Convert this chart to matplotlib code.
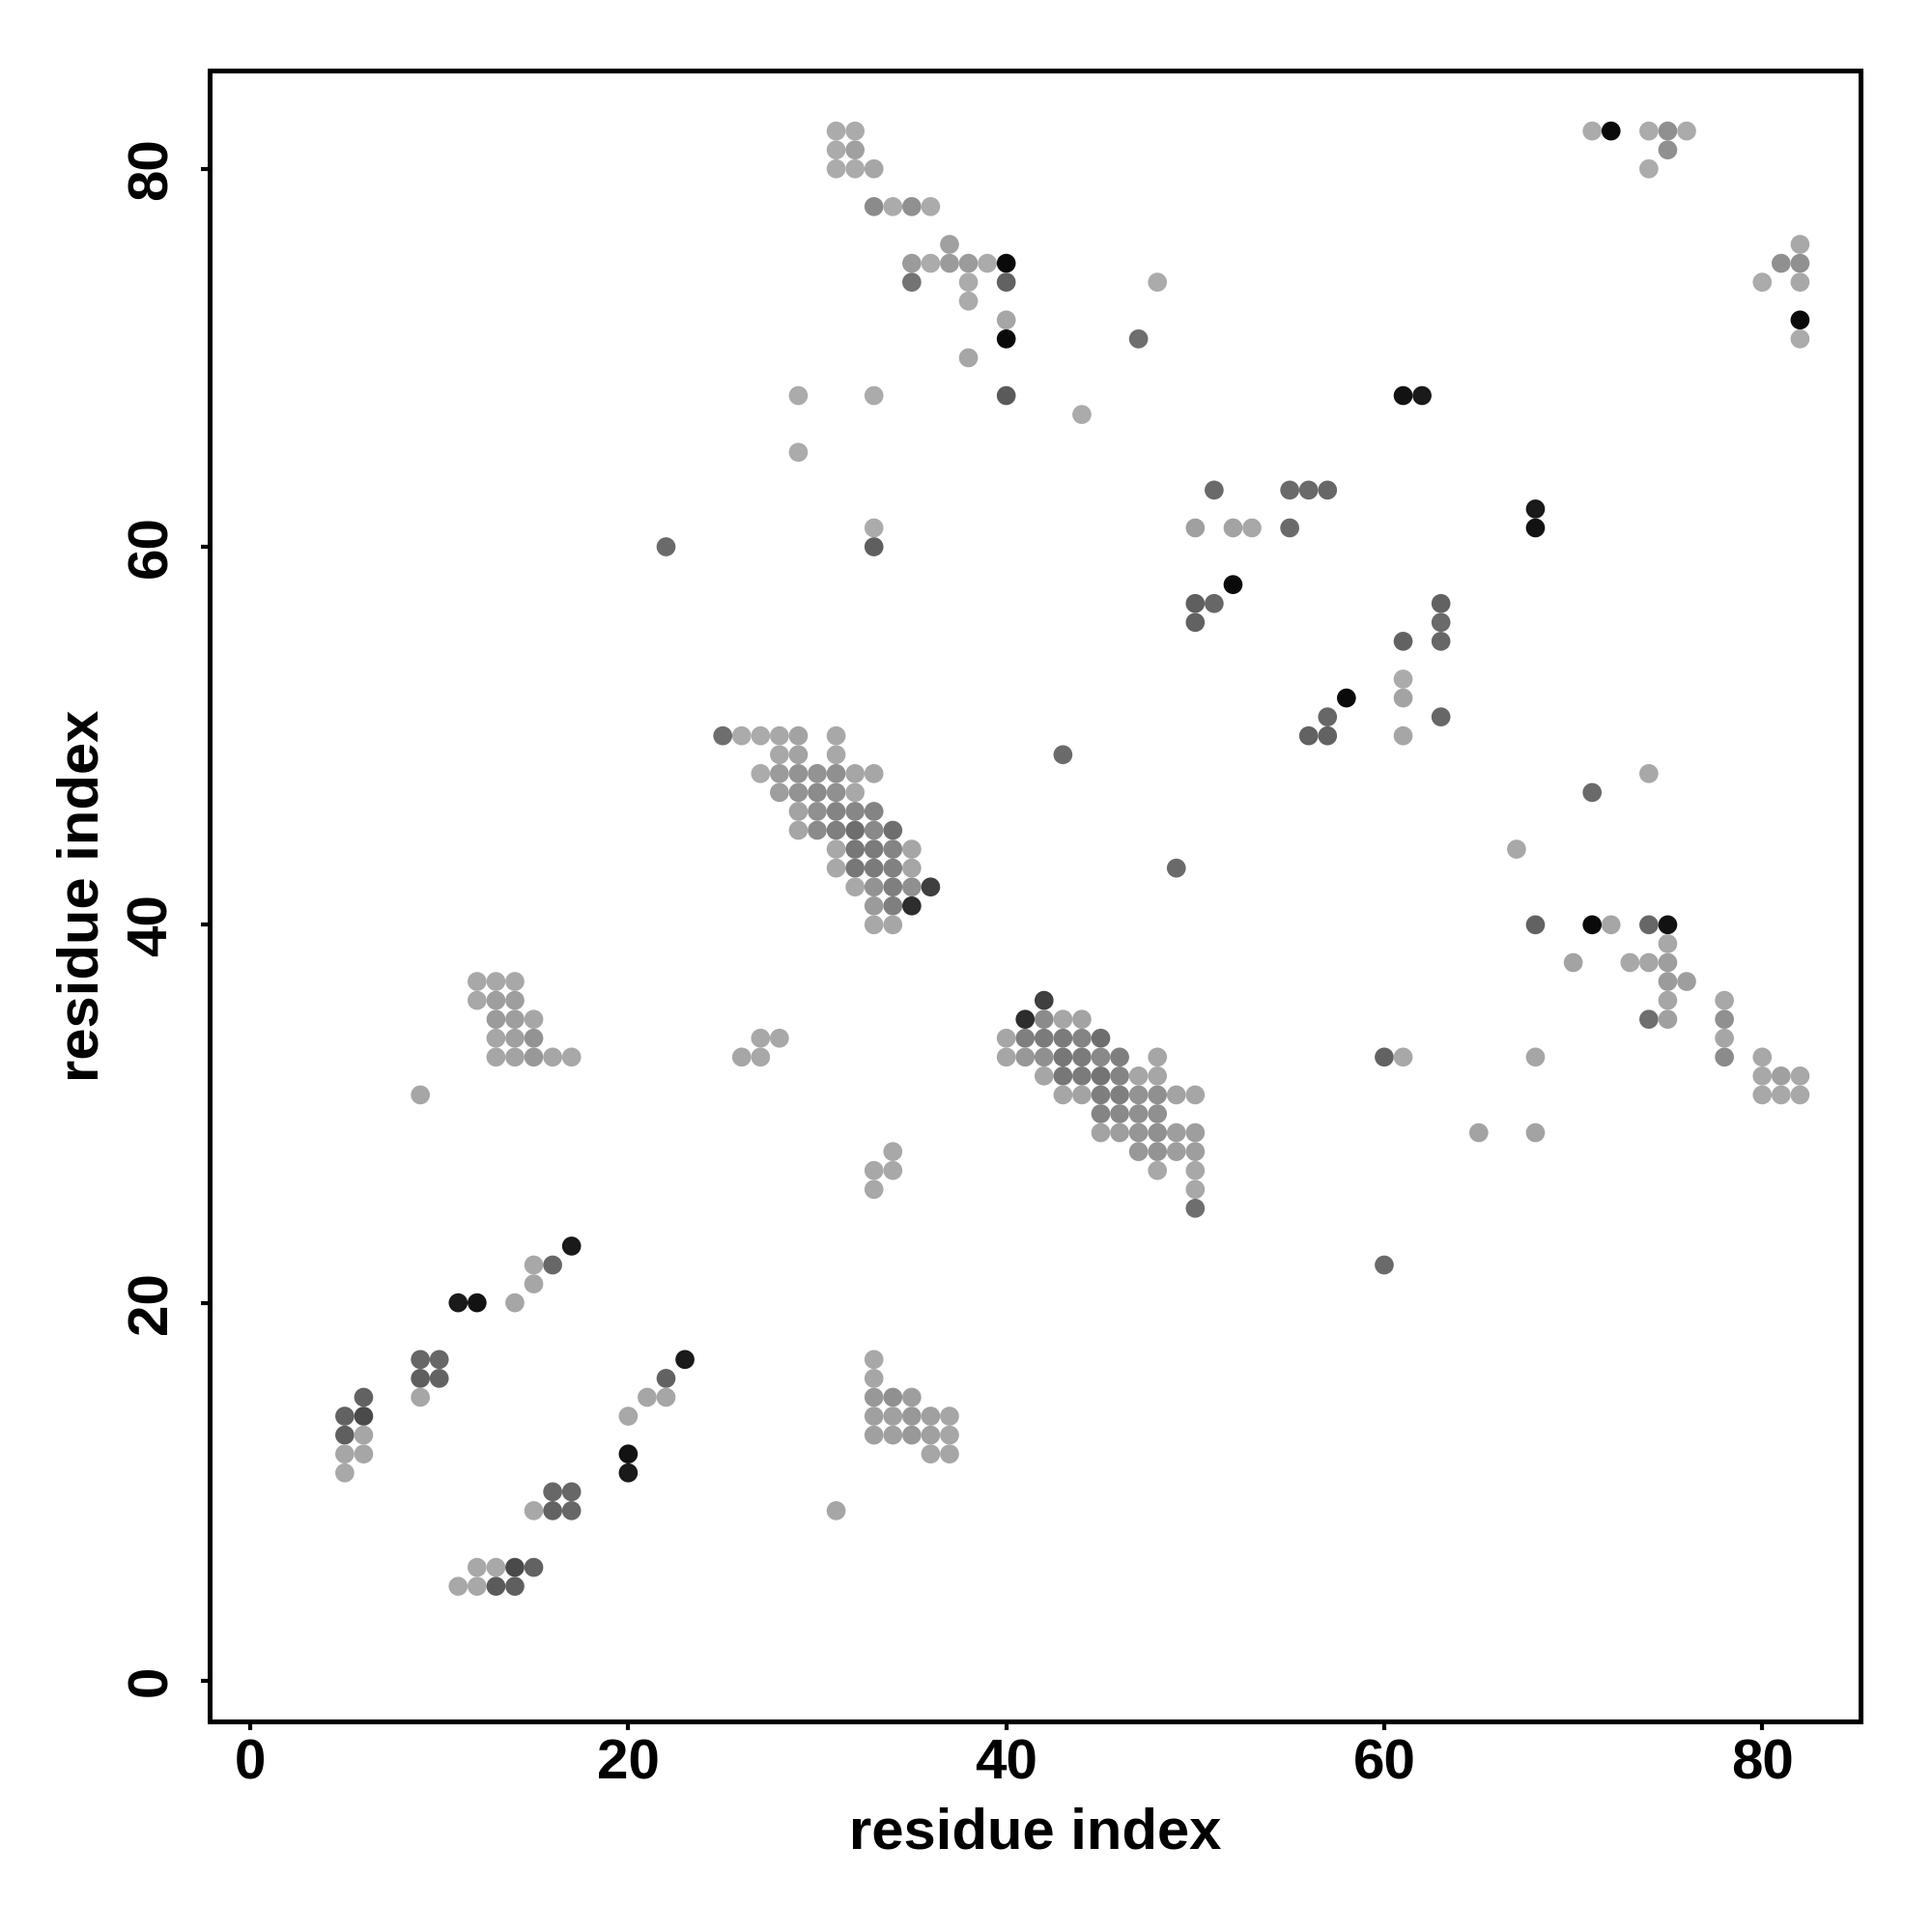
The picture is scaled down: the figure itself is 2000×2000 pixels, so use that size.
import matplotlib
matplotlib.use('Agg')
import matplotlib.pyplot as plt

# contact map: residue i, residue j, contact score (0 = weak/light, 1 = strong/black)
res_i = [
    # top left blocks
    31, 32, 31, 32, 31, 32, 33,
    33, 34, 35, 36, 37,
    35, 36, 37, 38, 39, 40,
    35, 38, 40, 48, 38, 40, 40, 47, 38,
    29, 33, 40, 44, 29,
    51, 55, 56, 57,
    33, 50, 52, 53, 55,
    22, 33, 52,
    50, 51, 63, 50, 63, 61, 63,
    61, 61, 58, 57, 63, 56, 57, 61,
    # top right
    71, 72, 74, 75, 76, 75, 74,
    82, 81, 82, 80, 82, 82, 82,
    61, 62, 68, 68,
    # strand pair around (30, 45)
    25, 26, 27, 28, 29, 31,
    28, 29, 31,
    27, 28, 29, 30, 31, 32, 33,
    28, 29, 30, 31, 32,
    29, 30, 31, 32, 33,
    29, 30, 31, 32, 33, 34,
    31, 32, 33, 34, 35,
    31, 32, 33, 34, 35,
    32, 33, 34, 35, 36,
    33, 34, 35,
    33, 34,
    # strand pair around (45, 31)
    42,
    41, 42, 43, 44,
    40, 41, 42, 43, 44, 45,
    40, 41, 42, 43, 44, 45, 46, 48,
    42, 43, 44, 45, 46, 47, 48,
    43, 44, 45, 46, 47, 48, 49, 50,
    45, 46, 47, 48,
    45, 46, 47, 48, 49, 50,
    47, 48, 49, 50,
    48, 50, 50, 50,
    # scattered middle
    43, 49,
    12, 13, 14, 12, 13, 14, 13, 14, 15, 13, 14, 15, 13, 14, 15, 16, 17,
    27, 28, 26, 27, 9,
    34, 33, 34, 33,
    # right middle
    74, 71, 67,
    68, 71, 72, 74, 75,
    75,
    70, 73, 74, 75,
    75, 76,
    75, 78,
    74, 75, 78,
    78,
    60, 61, 68, 78, 80,
    80, 81, 82,
    80, 81, 82,
    65, 68, 60,
    # bottom left
    17, 15, 16, 15, 11, 12, 14,
    9, 10, 23, 9, 10, 22,
    9, 21, 22, 6,
    5, 6, 20, 5, 6, 5, 6, 20, 5, 20,
    16, 17, 15, 16, 17,
    12, 13, 14, 15, 11, 12, 13, 14,
    # bottom middle
    33, 33, 33, 34, 35,
    33, 34, 35, 36, 37,
    33, 34, 35, 36, 37,
    36, 37, 31,
]

res_j = [
    82, 82, 81, 81, 80, 80, 80,
    78, 78, 78, 78, 76,
    75, 75, 75, 75, 75, 75,
    74, 74, 74, 74, 73, 72, 71, 71, 70,
    68, 68, 68, 67, 65,
    63, 63, 63, 63,
    61, 61, 61, 61, 61,
    60, 60, 58,
    57, 57, 57, 56, 56, 55, 55,
    53, 52, 52, 51, 51, 50, 50, 50,
    82, 82, 82, 82, 82, 81, 80,
    76, 75, 75, 74, 74, 72, 71,
    68, 68, 62, 61,
    50, 50, 50, 50, 50, 50,
    49, 49, 49,
    48, 48, 48, 48, 48, 48, 48,
    47, 47, 47, 47, 47,
    46, 46, 46, 46, 46,
    45, 45, 45, 45, 45, 45,
    44, 44, 44, 44, 44,
    43, 43, 43, 43, 43,
    42, 42, 42, 42, 42,
    41, 41, 41,
    40, 40,
    36,
    35, 35, 35, 35,
    34, 34, 34, 34, 34, 34,
    33, 33, 33, 33, 33, 33, 33, 33,
    32, 32, 32, 32, 32, 32, 32,
    31, 31, 31, 31, 31, 31, 31, 31,
    30, 30, 30, 30,
    29, 29, 29, 29, 29, 29,
    28, 28, 28, 28,
    27, 27, 26, 25,
    49, 43,
    37, 37, 37, 36, 36, 36, 35, 35, 35, 34, 34, 34, 33, 33, 33, 33, 33,
    34, 34, 33, 33, 31,
    28, 27, 27, 26,
    48, 47, 44,
    40, 40, 40, 40, 40,
    39,
    38, 38, 38, 38,
    37, 37,
    36, 36,
    35, 35, 35,
    34,
    33, 33, 33, 33, 33,
    32, 32, 32,
    31, 31, 31,
    29, 29, 22,
    23, 22, 22, 21, 20, 20, 20,
    17, 17, 17, 16, 16, 16,
    15, 15, 15, 15,
    14, 14, 14, 13, 13, 12, 12, 12, 11, 11,
    10, 10, 9, 9, 9,
    6, 6, 6, 6, 5, 5, 5, 5,
    17, 16, 15, 15, 15,
    14, 14, 14, 14, 14,
    13, 13, 13, 13, 13,
    12, 12, 9,
]

score = [
    0, 0, 0, 0.07, 0, 0, 0.03,
    0.2, 0, 0.17, 0, 0.07,
    0.1, 0, 0.1, 0.1, 0, 1.0,
    0.35, 0, 0.45, 0, 0, 0.03, 1.0, 0.38, 0.03,
    0, 0, 0.5, 0, 0,
    0.4, 0.4, 0.4, 0.42,
    0, 0.07, 0.05, 0.02, 0.4,
    0.4, 0.47, 1.0,
    0.47, 0.42, 0.45, 0.45, 0.4, 0.45, 0.42,
    0, 0.05, 1.0, 0.42, 0.42, 0.45, 0.45, 0.03,
    0, 1.0, 0, 0.17, 0, 0.17, 0,
    0.02, 0.17, 0.17, 0, 0.02, 1.0, 0,
    0.95, 0.9, 0.9, 0.95,
    0.38, 0, 0, 0.02, 0.05, 0.02,
    0.02, 0.05, 0.02,
    0, 0.1, 0.15, 0.15, 0.17, 0.03, 0.03,
    0.08, 0.15, 0.2, 0.17, 0.02,
    0.05, 0.17, 0.24, 0.22, 0.24,
    0.03, 0.2, 0.27, 0.38, 0.21, 0.38,
    0.02, 0.32, 0.3, 0.24, 0.03,
    0.02, 0.32, 0.3, 0.26, 0.03,
    0.02, 0.15, 0.27, 0.17, 0.67,
    0.1, 0.27, 0.78,
    0.02, 0.03,
    0.67,
    0.78, 0.2, 0.03, 0.05,
    0.03, 0.27, 0.3, 0.3, 0.24, 0.38,
    0.03, 0.12, 0.17, 0.32, 0.3, 0.21, 0.27, 0.03,
    0.03, 0.32, 0.3, 0.34, 0.24, 0.03, 0.03,
    0.03, 0.05, 0.28, 0.27, 0.15, 0.17, 0.05, 0.03,
    0.24, 0.21, 0.17, 0.17,
    0.05, 0.08, 0.13, 0.17, 0.08, 0.08,
    0.12, 0.15, 0.08, 0.08,
    0.02, 0.02, 0.02, 0.38,
    0.4, 0.4,
    0.02, 0.02, 0.02, 0.02, 0.08, 0.08, 0.1, 0.08, 0.03, 0.03, 0.07, 0.15, 0.03, 0.05, 0.12, 0.03, 0.02,
    0.02, 0.02, 0.03, 0.02, 0.03,
    0.02, 0.02, 0.02, 0.02,
    0.02, 0.4, 0.02,
    0.45, 1.0, 0.03, 0.42, 0.95,
    0.02,
    0.05, 0.02, 0.03, 0.08,
    0.1, 0.08,
    0.03, 0.02,
    0.38, 0.07, 0.17,
    0.03,
    0.45, 0.02, 0.03, 0.2, 0.02,
    0.02, 0.07, 0.02,
    0.02, 0.02, 0.02,
    0.05, 0.05, 0.4,
    0.9, 0.02, 0.42, 0.03, 0.9, 0.95, 0.03,
    0.42, 0.42, 0.9, 0.47, 0.45, 0.45,
    0.03, 0.03, 0.03, 0.45,
    0.45, 0.6, 0.02, 0.47, 0.03, 0.03, 0.03, 0.95, 0.02, 0.9,
    0.42, 0.42, 0.02, 0.45, 0.42,
    0.02, 0.02, 0.6, 0.45, 0.02, 0.02, 0.5, 0.47,
    0.02, 0.03, 0.12, 0.17, 0.08,
    0.07, 0.07, 0.12, 0.07, 0.03,
    0.07, 0.07, 0.12, 0.07, 0.03,
    0.03, 0.03, 0.03,
]

ticks = [0, 20, 40, 60, 80]
font = 'Liberation Sans'

fig = plt.figure(figsize=(20, 20), dpi=100)
ax = fig.add_axes([0.1085, 0.109, 0.8545, 0.8545])

ax.scatter(res_i, res_j, c=score, cmap='gray_r', vmin=-0.524, vmax=1.063,
           s=200, linewidths=0, marker='o')

ax.set_xlim(-2.15, 85.2)
ax.set_ylim(-2.15, 85.2)
ax.set_xticks(ticks)
ax.set_yticks(ticks)
ax.set_xticklabels([str(t) for t in ticks], fontsize=42, fontweight='bold', family=font)
ax.set_yticklabels([str(t) for t in ticks], fontsize=42, fontweight='bold', family=font,
                   rotation=90, va='center')
ax.tick_params(direction='out', length=6.5, width=3)
ax.tick_params(axis='x', pad=6)
ax.tick_params(axis='y', pad=17)
for sp in ax.spines.values():
    sp.set_linewidth(3.6)

fig.text(0.53575, 1 - 1913 / 2000, 'residue index', fontsize=43, fontweight='bold',
         family=font, ha='center', va='baseline')
fig.text(102 / 2000, 0.5362, 'residue index', fontsize=43, fontweight='bold',
         family=font, ha='center', va='baseline', rotation=90, rotation_mode='anchor')

fig.savefig('out.png', dpi=100)
